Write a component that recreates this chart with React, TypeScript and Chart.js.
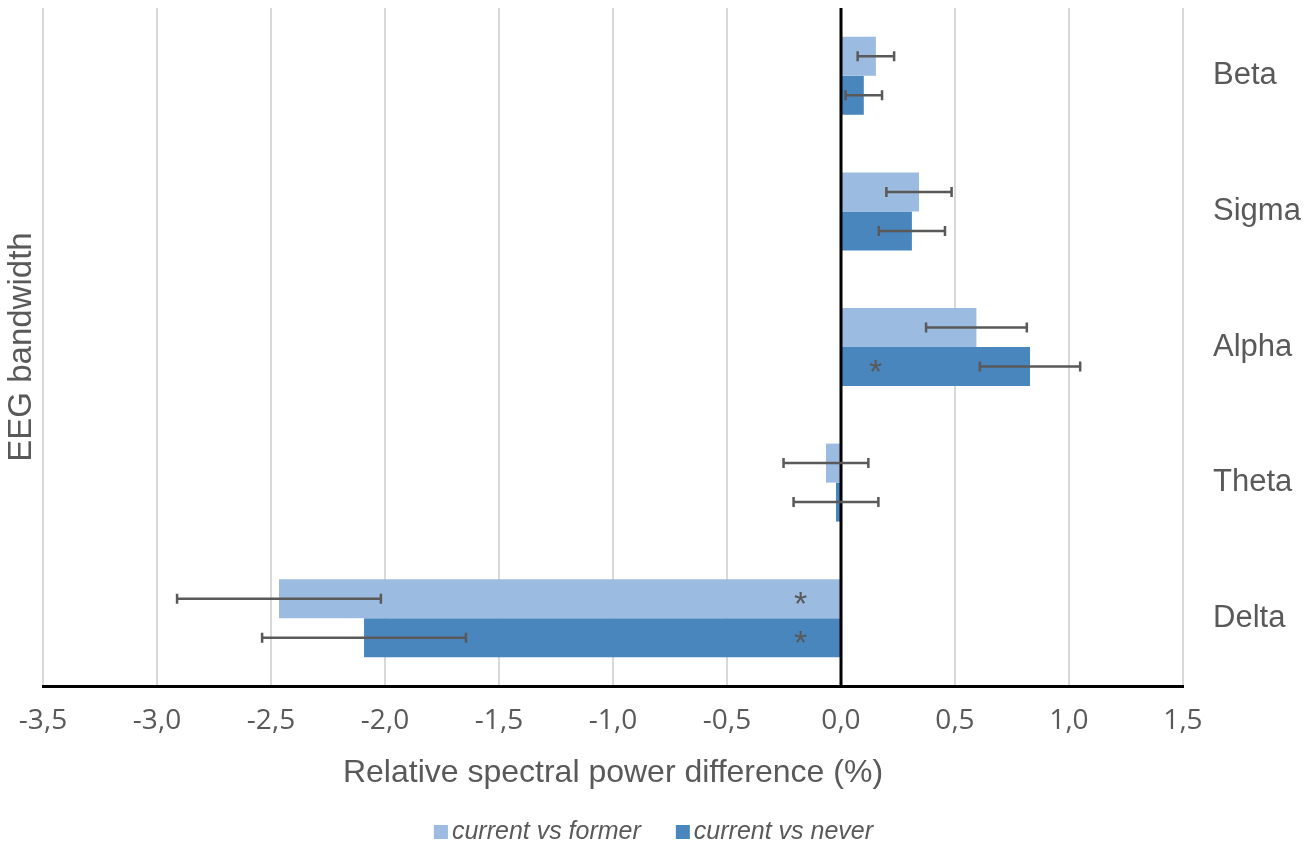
import React, { useEffect, useRef } from "react";
import { Chart, registerables } from "chart.js";

Chart.register(...registerables);

const categories = ["Beta", "Sigma", "Alpha", "Theta", "Delta"];
const seriesNames = ["current vs former", "current vs never"];
const formerValues = [0.153, 0.342, 0.594, -0.066, -2.465];
const formerErrors = [0.08, 0.143, 0.221, 0.186, 0.447];
const neverValues = [0.1, 0.311, 0.829, -0.022, -2.092];
const neverErrors = [0.08, 0.145, 0.22, 0.186, 0.447];
const formerStars: (number | null)[] = [null, null, null, null, -0.177];
const neverStars: (number | null)[] = [null, null, 0.152, null, -0.177];
const xMin = -3.5;
const xMax = 1.5;
const xStep = 0.5;

const LIGHT = "#9BBBE1";
const DARK = "#4A86BE";
const TEXT = "#595959";
const SANS = "'Liberation Sans', Arial, sans-serif";

const errors = [formerErrors, neverErrors];
const stars = [formerStars, neverStars];

const overlayPlugin = {
  id: "overlay",
  afterDatasetsDraw(chart: any) {
    const ctx = chart.ctx;
    const xs = chart.scales.x;
    const area = chart.chartArea;
    const x0 = xs.getPixelForValue(0);
    ctx.save();
    ctx.strokeStyle = "#000000";
    ctx.lineWidth = 3;
    ctx.beginPath();
    ctx.moveTo(x0, area.top);
    ctx.lineTo(x0, area.bottom);
    ctx.stroke();
    ctx.strokeStyle = "#595959";
    ctx.lineWidth = 2.5;
    chart.data.datasets.forEach((ds: any, di: number) => {
      const meta = chart.getDatasetMeta(di);
      meta.data.forEach((el: any, i: number) => {
        const v = ds.data[i];
        const e = errors[di][i];
        const xl = xs.getPixelForValue(v - e);
        const xr = xs.getPixelForValue(v + e);
        const y = el.y;
        ctx.beginPath();
        ctx.moveTo(xl, y);
        ctx.lineTo(xr, y);
        ctx.moveTo(xl, y - 5);
        ctx.lineTo(xl, y + 5);
        ctx.moveTo(xr, y - 5);
        ctx.lineTo(xr, y + 5);
        ctx.stroke();
        const s = stars[di][i];
        if (s !== null && s !== undefined) {
          ctx.fillStyle = TEXT;
          ctx.font = `34px ${SANS}`;
          ctx.textAlign = "center";
          ctx.textBaseline = "middle";
          ctx.fillText("*", xs.getPixelForValue(s), y + 7);
        }
      });
    });
    ctx.restore();
  },
  afterDraw(chart: any) {
    const ctx = chart.ctx;
    const area = chart.chartArea;
    ctx.save();
    ctx.fillStyle = TEXT;
    ctx.font = `33px ${SANS}`;
    ctx.textAlign = "center";
    ctx.textBaseline = "middle";
    ctx.translate(22, (area.top + area.bottom) / 2);
    ctx.rotate(-Math.PI / 2);
    ctx.fillText("EEG bandwidth", 0, 0);
    ctx.restore();

    // legend
    ctx.save();
    ctx.font = `italic 25px ${SANS}`;
    ctx.textBaseline = "middle";
    ctx.textAlign = "left";
    const box = 14;
    const gapBoxText = 4;
    const gapItems = 35;
    const colors = [LIGHT, DARK];
    const widths = seriesNames.map((n) => box + gapBoxText + ctx.measureText(n).width);
    const total = widths.reduce((a, b) => a + b, 0) + gapItems * (seriesNames.length - 1);
    let x = chart.width / 2 - total / 2;
    const cy = 832;
    seriesNames.forEach((n, i) => {
      ctx.fillStyle = colors[i];
      ctx.fillRect(x, cy - box / 2, box, box);
      ctx.fillStyle = TEXT;
      ctx.fillText(n, x + box + gapBoxText, cy);
      x += widths[i] + gapItems;
    });
    ctx.restore();
  },
};

export default function App() {
  const ref = useRef<HTMLCanvasElement>(null);
  useEffect(() => {
    if (!ref.current) return;
    const chart = new Chart(ref.current, {
      type: "bar",
      data: {
        labels: categories,
        datasets: [
          {
            label: seriesNames[0],
            data: formerValues,
            backgroundColor: LIGHT,
            categoryPercentage: 0.575,
            barPercentage: 1,
          },
          {
            label: seriesNames[1],
            data: neverValues,
            backgroundColor: DARK,
            categoryPercentage: 0.575,
            barPercentage: 1,
          },
        ],
      },
      options: {
        indexAxis: "y",
        animation: false,
        responsive: true,
        maintainAspectRatio: false,
        layout: { padding: { left: 43, top: 8, right: 0, bottom: 32 } },
        plugins: {
          tooltip: { enabled: false },
          legend: { display: false },
        },
        scales: {
          x: {
            type: "linear",
            min: xMin,
            max: xMax,
            afterFit: (s: any) => {
              s.height = 130;
              s.paddingLeft = 0;
              s.paddingRight = 0;
            },
            ticks: {
              stepSize: xStep,
              color: TEXT,
              font: { family: "'Open Sans', sans-serif", size: 28 },
              padding: 18,
              callback: (v: any) => Number(v).toFixed(1).replace(".", ","),
            },
            grid: { color: "#D9D9D9", lineWidth: 2, drawTicks: false },
            border: { color: "#000000", width: 3 },
            title: {
              display: true,
              text: "Relative spectral power difference (%)",
              color: TEXT,
              font: { family: SANS, size: 32 },
              padding: { top: 0, bottom: 24 },
            },
          },
          y: {
            position: "right",
            afterFit: (s: any) => {
              s.width = 124;
              s.paddingTop = 0;
              s.paddingBottom = 0;
            },
            ticks: {
              color: TEXT,
              font: { family: SANS, size: 31 },
              padding: 30,
            },
            grid: { display: false, drawTicks: false },
            border: { display: false },
          },
        },
      },
      plugins: [overlayPlugin],
    });
    return () => chart.destroy();
  }, []);
  return (
    <div style={{ position: "absolute", left: 0, top: 0, width: 1307, height: 848 }}>
      <canvas ref={ref} />
    </div>
  );
}
